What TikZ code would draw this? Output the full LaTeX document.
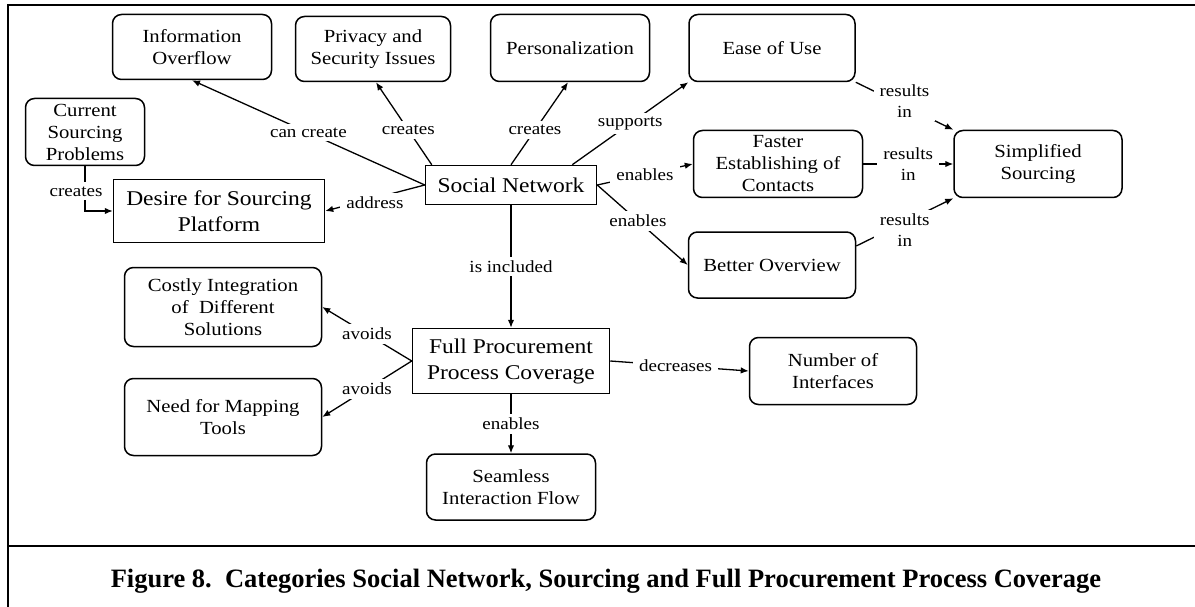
\documentclass[tikz,border=0pt]{standalone}
\usepackage{fontspec}
\setmainfont{Liberation Serif}[FakeStretch=1.12]
\newfontfamily\capfont{Liberation Serif}
\usetikzlibrary{arrows.meta}
\begin{document}
\begin{tikzpicture}[x=1pt,y=-1pt,>={Latex[length=8pt,width=6.5pt]},
    box/.style={draw,rounded corners=9pt,line width=1.5pt,align=center,inner sep=0pt,font=\fontsize{18.5}{22}\selectfont},
    bigbox/.style={draw,line width=1.5pt,align=center,inner sep=0pt,font=\fontsize{21}{26}\selectfont},
    lbl/.style={fill=white,inner xsep=6pt,inner ysep=4pt,align=center,font=\fontsize{17}{21}\selectfont},
    link/.style={->,line width=1.3pt}]
\useasboundingbox (0,0) rectangle (1195,607);
\draw[line width=2.2pt](8,607)--(8,5)--(1195,5);
\draw[line width=2.2pt](8,546)--(1195,546);
% upper row
\node[box,minimum width=159,minimum height=65](IO) at (192,47){Information\\Overflow};
\node[box,minimum width=155,minimum height=65](PS) at (373,49){Privacy and\\Security Issues};
\node[box,minimum width=159,minimum height=67](PE) at (570,48){Personalization};
\node[box,minimum width=166,minimum height=67](EU) at (772,48){Ease of Use};
\node[box,minimum width=119,minimum height=67](CS) at (85,132){Current\\Sourcing\\Problems};
\node[bigbox,minimum width=211,minimum height=63](DS) at (219,211){Desire for Sourcing\\Platform};
\node[bigbox,minimum width=171,minimum height=39](SN) at (511,185){Social Network};
\node[box,minimum width=169,minimum height=67](FE) at (778,164){Faster\\Establishing of\\Contacts};
\node[box,minimum width=168,minimum height=67](SS) at (1038,164){Simplified\\Sourcing};
\node[box,minimum width=167,minimum height=66](BO) at (772,265){Better Overview};
% lower part
\node[box,minimum width=197,minimum height=79](CI) at (223,307){Costly Integration\\of\ \ Different\\Solutions};
\node[bigbox,minimum width=197,minimum height=65](FP) at (511,361){Full Procurement\\Process Coverage};
\node[box,minimum width=197,minimum height=77](NM) at (223,417){Need for Mapping\\Tools};
\node[box,minimum width=167,minimum height=67](NI) at (833,371){Number of\\Interfaces};
\node[box,minimum width=169,minimum height=66](SI) at (511,487){Seamless\\Interaction Flow};
% connectors
\draw[link](SN.west)--node[lbl]{can create}(IO.south);
\draw[link]([xshift=7pt]SN.north west)--node[lbl,pos=.42]{creates}([xshift=3pt]PS.south);
\draw[link](SN.north)--node[lbl,pos=.42]{creates}([xshift=-2pt]PE.south);
\draw[link]([xshift=-25pt]SN.north east)--node[lbl]{supports}(EU.south west);
\draw[link](SN.east)--node[lbl]{enables}(FE.west);
\draw[link](SN.east)--node[lbl,pos=.45]{enables}(BO.west);
\draw[link](SN.west)--node[lbl,yshift=-5pt]{address}(DS.east);
\draw[link](CS.south)|-node[lbl,pos=.28,xshift=-9pt]{creates}(DS.west);
\draw[link](SN.south)--node[lbl]{is included}(FP.north);
\draw[link](FP.west)--node[lbl]{avoids}(CI.east);
\draw[link](FP.west)--node[lbl]{avoids}(NM.east);
\draw[link](FP.east)--node[lbl,xshift=-4pt]{decreases}(NI.west);
\draw[link](FP.south)--node[lbl]{enables}(SI.north);
\draw[link](EU.south east)--node[lbl,yshift=5pt]{results\\in}(SS.north west);
\draw[link](FE.east)--node[lbl]{results\\in}(SS.west);
\draw[link]([yshift=19pt]BO.east)--node[lbl,yshift=-8pt]{results\\in}(SS.south west);
% caption
\node[anchor=base,font=\capfont\bfseries\fontsize{26.5}{30}\selectfont](cap) at (606,587){Figure 8.\ \ Categories Social Network, Sourcing and Full Procurement Process Coverage};
\end{tikzpicture}
\end{document}
